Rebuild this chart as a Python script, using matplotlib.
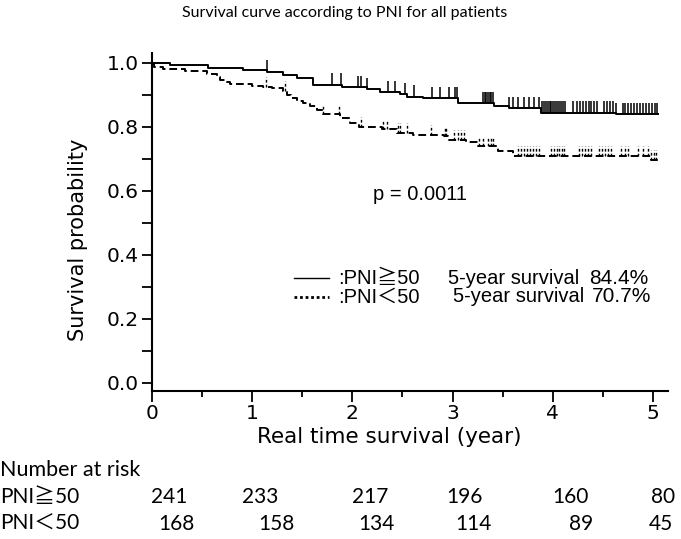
import matplotlib
matplotlib.use("Agg")
import matplotlib.pyplot as plt
import numpy as np

# survival curve, PNI >= 50 (step times in years, survival after step)
hi_time = [0, 0.18, 0.56, 0.91, 1.15, 1.31, 1.45, 1.61, 1.90, 2.15, 2.28, 2.48, 2.55,
           2.70, 3.05, 3.41, 3.56, 3.88, 4.63, 5.05]
hi_surv = [1.0, 0.993, 0.985, 0.979, 0.972, 0.962, 0.952, 0.931, 0.924, 0.918, 0.908,
           0.902, 0.895, 0.890, 0.874, 0.864, 0.859, 0.845, 0.840, 0.840]
hi_cens = [1.15, 1.80, 1.89, 2.06, 2.09, 2.15, 2.36, 2.43, 2.53, 2.61, 2.79, 2.87, 2.96,
           3.02, 3.04, 3.30, 3.32, 3.33, 3.35, 3.37, 3.38, 3.40, 3.56, 3.60, 3.65, 3.71,
           3.76, 3.81, 3.86, 3.89, 3.91, 3.93, 3.95, 3.97, 3.98, 4.00, 4.02, 4.04, 4.06,
           4.08, 4.10, 4.12, 4.20, 4.24, 4.27, 4.30, 4.33, 4.36, 4.38, 4.41, 4.44, 4.51,
           4.54, 4.57, 4.60, 4.63, 4.70, 4.72, 4.75, 4.78, 4.81, 4.84, 4.87, 4.90, 4.93,
           4.96, 4.99, 5.02, 5.04]

# survival curve, PNI < 50
lo_time = [0, 0.02, 0.11, 0.33, 0.55, 0.65, 0.68, 0.73, 0.78, 1.0, 1.11, 1.2, 1.31, 1.35,
           1.39, 1.45, 1.51, 1.58, 1.65, 1.71, 1.88, 1.98, 2.07, 2.3, 2.45, 2.6, 2.91,
           2.95, 3.13, 3.25, 3.45, 3.6, 4.98, 5.05]
lo_surv = [1.0, 0.988, 0.982, 0.975, 0.965, 0.957, 0.946, 0.94, 0.933, 0.929, 0.926,
           0.923, 0.912, 0.9, 0.89, 0.88, 0.874, 0.864, 0.854, 0.84, 0.828, 0.812, 0.8,
           0.792, 0.782, 0.776, 0.771, 0.759, 0.753, 0.74, 0.725, 0.71, 0.698, 0.698]
lo_cens = [1.14, 1.33, 1.71, 1.87, 2.09, 2.31, 2.35, 2.46, 2.48, 2.55, 2.78, 2.92, 2.93,
           3.01, 3.05, 3.08, 3.11, 3.26, 3.30, 3.35, 3.38, 3.40, 3.65, 3.68, 3.71, 3.74,
           3.77, 3.80, 3.83, 3.86, 3.98, 4.01, 4.04, 4.06, 4.09, 4.11, 4.26, 4.29, 4.32,
           4.35, 4.38, 4.46, 4.49, 4.52, 4.55, 4.58, 4.68, 4.72, 4.75, 4.85, 4.90, 4.95,
           4.98, 5.01, 5.03]

groups = ["PNI≧50", "PNI＜50"]
five_year = ["84.4%", "70.7%"]
p_value = "p = 0.0011"

# number at risk
risk_hi = [241, 233, 217, 196, 160, 80]
risk_lo = [168, 158, 134, 114, 89, 45]
risk_x_hi = [169, 260, 370, 464, 570, 663]   # pixel centres in the figure
risk_x_lo = [176, 276, 376, 473, 581, 661]

W, H = 681, 539
fig = plt.figure(figsize=(W / 100, H / 100), dpi=100)
ax = fig.add_axes([152 / W, 1 - 391 / H, 516 / W, 338 / H])
ax.set_xlim(0, 5.15)
ax.set_ylim(-0.025, 1.031)

for s in ["top", "right"]:
    ax.spines[s].set_visible(False)
for s in ["left", "bottom"]:
    ax.spines[s].set_linewidth(1.5)

ax.set_xticks(np.arange(0, 6, 1))
ax.set_xticks(np.arange(0.5, 5.5, 1), minor=True)
ax.set_yticks(np.arange(0, 1.01, 0.2))
ax.set_yticks(np.arange(0.1, 1.0, 0.2), minor=True)
ax.set_yticklabels(["%.1f" % v for v in np.arange(0, 1.01, 0.2)])
ax.tick_params(axis="x", which="major", direction="out", length=8, width=1.3,
               labelsize=14.5, pad=1.5)
ax.tick_params(axis="x", which="minor", direction="out", length=4, width=1.3)
ax.tick_params(axis="y", which="both", direction="out", length=7, width=1.3,
               labelsize=14.5, pad=2.5)


def at(times, surv, t):
    i = np.searchsorted(times, t, side="right") - 1
    return np.asarray(surv)[i]


ax.step(hi_time, hi_surv, where="post", color="black", lw=1.4)
ax.step(lo_time, lo_surv, where="post", color="black", lw=1.4, linestyle=(0, (4, 2)))

yc = at(hi_time, hi_surv, np.array(hi_cens))
ax.vlines(hi_cens, yc, yc + 0.036, color="black", lw=1.1)
yc = at(lo_time, lo_surv, np.array(lo_cens))
ax.vlines(lo_cens, yc, yc + 0.03, color="black", lw=1.0, linestyle=(0, (2, 1.5)))

# p value and legend
ax.text(2.67, 0.5875, p_value, ha="center", va="center", fontsize=14.5,
        family="Liberation Sans")
leg_font = ["Liberation Sans", "Noto Sans CJK JP"]
rows_y = [0.328, 0.269]
styles = ["-", (0, (1, 1))]
widths = [1.0, 2.0]
surv_x = [2.95, 3.0]
pct_x = [4.36, 4.39]
for k in range(2):
    ax.plot([1.42, 1.77], [rows_y[k], rows_y[k]], color="black", lw=widths[k],
            linestyle=styles[k])
    ax.text(1.86, rows_y[k], ":" + groups[k], ha="left", va="center", fontsize=14.5,
            family=leg_font)
    ax.text(surv_x[k], rows_y[k], "5-year survival", ha="left", va="center",
            fontsize=14.5, family=leg_font)
    ax.text(pct_x[k], rows_y[k], five_year[k], ha="left", va="center",
            fontsize=15, family=leg_font)

# titles and labels
cal = ["Lato", "Noto Sans CJK JP"]
fig.text(345 / W, 1 - 13 / H, "Survival curve according to PNI for all patients",
         ha="center", va="center", fontsize=11.5, family=cal)
fig.text(78 / W, 1 - 240 / H, "Survival probability", rotation=90, ha="center",
         va="center", fontsize=15)
fig.text(389 / W, 1 - 437 / H, "Real time survival (year)", ha="center", va="center",
         fontsize=15.5)

# number at risk table
fig.text(0, 1 - 470 / H, "Number at risk", ha="left", va="center", fontsize=15.5,
         family=cal)
rows = [(risk_hi, risk_x_hi, 497), (risk_lo, risk_x_lo, 524)]
for k, (vals, xs, ypix) in enumerate(rows):
    fig.text(0, 1 - ypix / H, groups[k], ha="left", va="center", fontsize=15,
             family=cal)
    for v, xp in zip(vals, xs):
        fig.text(xp / W, 1 - ypix / H, str(v), ha="center", va="center",
                 fontsize=15, family=cal)

fig.savefig("out.png", dpi=100)
